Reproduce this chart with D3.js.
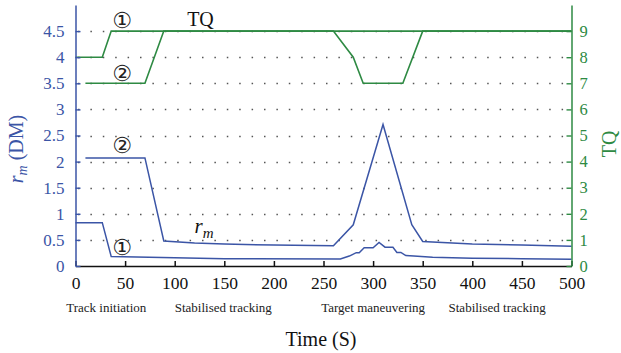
<!DOCTYPE html>
<html>
<head>
<meta charset="utf-8">
<script src="https://cdn.jsdelivr.net/npm/d3@7"></script>
<style>
  body { margin: 0; background: #fff; }
  svg { display: block; }
  svg text { font-family: "Liberation Serif", "DejaVu Serif", "Noto Serif", serif; }
  svg text.circ { font-family: "DejaVu Sans", "Noto Sans", sans-serif; }
</style>
</head>
<body>
<svg id="chart" width="621" height="353"></svg>
<script>
// time (s) and values
const tq1Time = [0, 27, 36, 500];
const tq1 = [8, 8, 9, 9];
const tq2Time = [10, 70, 89, 260, 280, 290, 330, 350, 500];
const tq2 = [7, 7, 9, 9, 8, 7, 7, 9, 9];
const rm2Time = [10, 70, 89, 120, 150, 200, 260, 280, 310, 339, 350, 400, 450, 500];
const rm2 = [2.07, 2.07, 0.48, 0.44, 0.42, 0.4, 0.39, 0.79, 2.71, 0.79, 0.47, 0.42, 0.4, 0.38];
const rm1Time = [0, 27, 36, 100, 150, 267, 276, 283, 286, 291, 300, 306, 312, 320, 324, 328, 333, 341, 360, 400, 450, 500];
const rm1 = [0.83, 0.83, 0.18, 0.16, 0.14, 0.135, 0.19, 0.255, 0.255, 0.35, 0.35, 0.45, 0.36, 0.36, 0.26, 0.26, 0.2, 0.19, 0.17, 0.15, 0.14, 0.13];

const xTicks = d3.range(0, 501, 50);
const leftTicks = d3.range(0, 4.51, 0.5);
const rightTicks = d3.range(0, 10, 1);
const phaseLabels = ["Track initiation", "Stabilised tracking", "Target maneuvering", "Stabilised tracking"];
const phaseMid = [31, 149, 300, 425];

const blue = "#3b55a6";
const green = "#2e8a43";

const svg = d3.select("#chart");

const x = d3.scaleLinear().domain([0, 500]).range([75.5, 571.5]);
const yL = d3.scaleLinear().domain([0, 5]).range([266, 5]);
const yR = d3.scaleLinear().domain([0, 10]).range([266, 5]);

// dotted grid
svg.append("g")
  .selectAll("line")
  .data(leftTicks.filter((d) => d > 0))
  .enter()
  .append("line")
  .attr("x1", x(0) + 2.5)
  .attr("x2", x(500))
  .attr("y1", (d) => Math.round(yL(d)) + 0.5)
  .attr("y2", (d) => Math.round(yL(d)) + 0.5)
  .attr("stroke", "#555")
  .attr("stroke-width", 1.4)
  .attr("stroke-dasharray", "1.5,10.9");

function series(ts, vs) {
  return ts.map((t, i) => [t, vs[i]]);
}

const lineL = d3.line().x((d) => x(d[0])).y((d) => yL(d[1]));
const lineR = d3.line().x((d) => x(d[0])).y((d) => yR(d[1]));

[[rm1Time, rm1], [rm2Time, rm2]].forEach((s) => {
  svg.append("path")
    .attr("d", lineL(series(s[0], s[1])))
    .attr("fill", "none")
    .attr("stroke", blue)
    .attr("stroke-width", 1.5);
});
[[tq2Time, tq2], [tq1Time, tq1]].forEach((s) => {
  svg.append("path")
    .attr("d", lineR(series(s[0], s[1])))
    .attr("fill", "none")
    .attr("stroke", green)
    .attr("stroke-width", 1.6);
});

// axes, ticks point inward
const gx = svg.append("g")
  .attr("transform", "translate(0,266)")
  .call(d3.axisBottom(x).tickValues(xTicks).tickSize(-5).tickSizeOuter(0).tickPadding(11));
gx.attr("font-family", null);
gx.select(".domain").attr("stroke", "#111").attr("stroke-width", 1.6);
gx.selectAll(".tick line").attr("stroke", "#111").attr("stroke-width", 1.5);
gx.selectAll("text").attr("font-size", 17.5).attr("fill", "#111");

const gl = svg.append("g")
  .attr("transform", "translate(75.5,0)")
  .call(d3.axisLeft(yL).tickValues(leftTicks).tickFormat(d3.format("")).tickSize(-5).tickSizeOuter(0).tickPadding(11));
gl.attr("font-family", null);
gl.select(".domain").attr("stroke", blue).attr("stroke-width", 1.5);
gl.selectAll(".tick line").attr("stroke", blue).attr("stroke-width", 1.4);
gl.selectAll("text").attr("font-size", 17).attr("fill", blue);

const gr = svg.append("g")
  .attr("transform", "translate(571.5,0)")
  .call(d3.axisRight(yR).tickValues(rightTicks).tickSize(-5).tickSizeOuter(0).tickPadding(8));
gr.attr("font-family", null);
gr.select(".domain").attr("stroke", green).attr("stroke-width", 1.5);
gr.selectAll(".tick line").attr("stroke", green).attr("stroke-width", 1.4);
gr.selectAll("text").attr("font-size", 16.5).attr("fill", green);

// phase labels under the time axis
svg.append("g")
  .selectAll("text")
  .data(phaseLabels)
  .enter()
  .append("text")
  .attr("x", (d, i) => x(phaseMid[i]))
  .attr("y", 312)
  .attr("text-anchor", "middle")
  .attr("font-size", 13)
  .attr("fill", "#222")
  .text((d) => d);

svg.append("text")
  .attr("x", 321)
  .attr("y", 346)
  .attr("text-anchor", "middle")
  .attr("font-size", 20)
  .attr("fill", "#111")
  .text("Time (S)");

// axis titles
const lt = svg.append("text")
  .attr("transform", "translate(23,149) rotate(-90)")
  .attr("text-anchor", "middle")
  .attr("font-size", 20)
  .attr("fill", blue);
lt.append("tspan").attr("font-style", "italic").text("r");
lt.append("tspan").attr("font-style", "italic").attr("font-size", 14).attr("dy", 4).text("m");
lt.append("tspan").attr("dy", -4).text(" (DM)");

svg.append("text")
  .attr("transform", "translate(616,144) rotate(-90)")
  .attr("text-anchor", "middle")
  .attr("font-size", 20)
  .attr("fill", green)
  .text("TQ");

// in-plot labels
svg.append("text")
  .attr("x", x(126))
  .attr("y", yR(9.2))
  .attr("text-anchor", "middle")
  .attr("font-size", 20)
  .attr("fill", "#111")
  .text("TQ");

const rl = svg.append("text")
  .attr("x", x(120))
  .attr("y", yL(0.63))
  .attr("font-size", 21)
  .attr("fill", "#111");
rl.append("tspan").attr("font-style", "italic").text("r");
rl.append("tspan").attr("font-style", "italic").attr("font-size", 15).attr("dy", 5).text("m");

const marks = [
  { t: 47, v: yR(9.39), s: "\u2460" },
  { t: 47, v: yR(7.39), s: "\u2461" },
  { t: 47, v: yL(2.3), s: "\u2461" },
  { t: 47, v: yL(0.345), s: "\u2460" },
];
svg.append("g")
  .selectAll("text")
  .data(marks)
  .enter()
  .append("text")
  .attr("class", "circ")
  .attr("x", (d) => x(d.t))
  .attr("y", (d) => d.v)
  .attr("text-anchor", "middle")
  .attr("dominant-baseline", "central")
  .attr("font-size", 22)
  .attr("fill", "#222")
  .text((d) => d.s);
</script>
</body>
</html>
